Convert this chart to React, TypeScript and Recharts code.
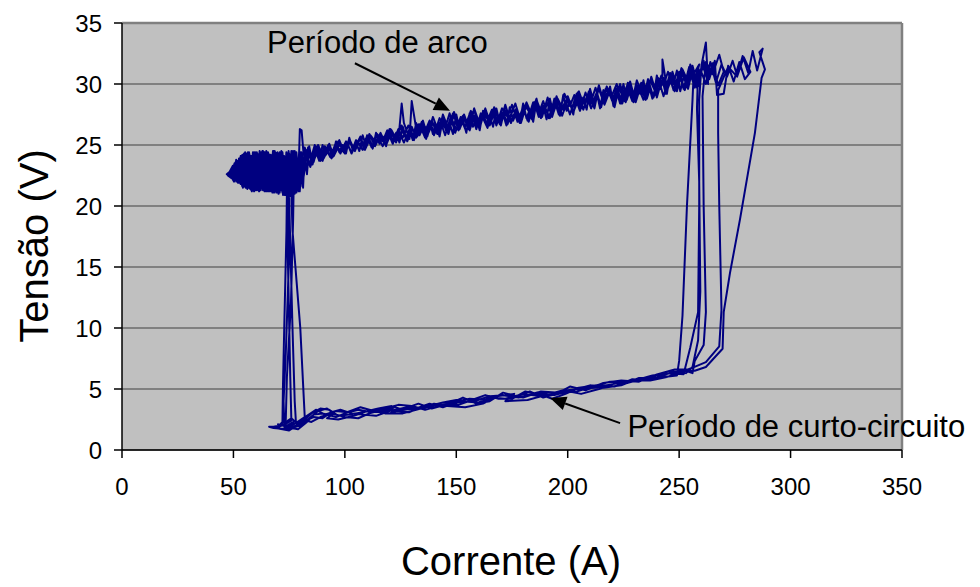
import React from 'react';
import { LineChart, Line, XAxis, YAxis, CartesianGrid, ReferenceLine, ReferenceDot, Label } from 'recharts';

// Current (A), Voltage (V) pairs, cycle by cycle
const loop1: [number, number][] = [
  [74, 21.2], [73.8, 18], [72.8, 10], [72.2, 5], [72, 2.3], [70, 1.9], [66, 1.9], [68, 1.8], [74, 1.7], [78, 2.0], [82, 2.4], [86, 2.7], [90, 2.6], [94, 3.1], [98, 3.3], [103, 3.0], [108, 2.9], [114, 2.8], [120, 3.2], [128, 3.5], [135, 3.4], [140, 3.8], [146, 3.6], [152, 4.0], [160, 3.9], [166, 4.3], [172, 4.2], [180, 4.6], [188, 4.4], [196, 4.8], [204, 5.0], [212, 5.1], [220, 5.4], [228, 5.6], [236, 5.8], [244, 6.0], [249, 6.1],
  [250, 7.3], [251.5, 11], [253.5, 20], [256, 28.7], [256.5, 30.8],
  [259, 31.6], [257, 30.1], [254.5, 31.4], [252, 29.6], [250, 30.9], [247.5, 29.5], [245, 31.0], [243, 29.9], [240.5, 30.5], [238, 28.8], [236, 30.2], [233.5, 29.1], [231, 30.3], [229, 28.6], [226.5, 29.8], [224, 28.4], [222, 30.0], [219.5, 28.9], [217, 29.6], [215, 28.1], [212.5, 29.7], [210, 28.3], [208, 29.3], [205.5, 27.8], [203, 29.1], [201, 28.2], [198.5, 29.2], [196, 27.5], [194, 28.7], [191.5, 27.2], [189, 28.6], [187, 27.6], [184.5, 28.5], [182, 27.0], [180, 28.1], [177.5, 26.9], [175, 28.3], [173, 27.3], [170.5, 28.0], [168, 26.6], [166, 27.9], [163.5, 26.8], [161, 27.6], [159, 26.3], [156.5, 27.8], [154, 26.5], [152, 27.3], [149.5, 26.0], [147, 27.6], [145, 26.4], [142.5, 27.2], [140, 25.8], [138, 27.0], [135.5, 25.9], [133, 26.7], [131, 25.4], [128.5, 26.6], [126, 25.6], [124, 26.3], [121.5, 25.1], [119, 26.2], [117, 25.3], [114.5, 25.9], [112, 24.8], [110, 25.7], [107.5, 24.9], [105, 25.4], [103, 24.4], [100.5, 25.3], [98, 24.3], [96, 25.2], [93.5, 24.0], [91, 24.9], [89, 23.8], [86.5, 25.0], [84, 23.4], [82, 24.8],
  [81, 21.6], [80, 24.4], [79, 21.3], [78, 24.2], [77, 21.1], [76, 24.5], [75, 21.4], [74, 24.1], [73, 20.9], [72, 24.4], [71, 21.5], [70, 24.3], [69, 21.2], [68, 24.5], [67, 21.6], [66, 24.2], [65, 21.3], [64, 24.4], [63, 21.7], [62, 24.0], [61, 21.4], [60, 24.3], [59, 21.8], [58, 24.1], [57, 21.5], [56, 23.9], [55, 21.9], [54, 23.7], [53, 22.1], [52, 23.5], [51, 22.3], [50, 23.2], [48.5, 22.7], [47.5, 22.5], [49, 22.3],
  [50.5, 23.5], [51.5, 22.0], [52.5, 23.9], [53.5, 21.8], [54.5, 24.2], [55.5, 21.6], [56.5, 24.3], [57.5, 21.4], [58.5, 24.0], [59.5, 21.6], [60.5, 24.4], [61.5, 21.3], [62.5, 24.2], [63.5, 21.5], [64.5, 24.3], [65.5, 21.2], [66.5, 24.1], [67.5, 21.4], [68.5, 24.4], [69.5, 21.1], [70.5, 24.2], [71.5, 21.3], [72.5, 24.0], [73.5, 21.0], [74.5, 23.6], [74.2, 21.2],
];

const loop2: [number, number][] = [
  [75, 20.6], [75.5, 17], [76.5, 10], [77.5, 4], [78, 2.4], [74, 2.0], [70, 2.1], [76, 1.8], [80, 2.0], [84, 2.6], [88, 3.2], [92, 3.4], [95, 3.0], [92, 2.6], [97, 2.5], [104, 2.8], [110, 3.2], [116, 3.1], [122, 3.5], [118, 3.0], [126, 3.0], [132, 3.3], [138, 3.6], [144, 3.9], [150, 4.1], [146, 3.6], [154, 3.5], [162, 3.8], [168, 4.4], [176, 4.6], [172, 4.0], [182, 4.1], [190, 4.5], [198, 4.9], [206, 4.6], [214, 5.0], [222, 5.5], [230, 5.7], [238, 6.1], [246, 6.3], [252, 6.2],
  [255, 8.4], [258.5, 11.3], [259, 20], [259, 28.7], [260, 31.5], [262, 33.4], [263, 30],
  [261, 31.9], [258.5, 29.8], [256, 31.5], [254, 30.2], [251.5, 31.2], [249, 29.4], [247, 30.6], [244.5, 29.7], [242.5, 32.0], [242.5, 30.4], [240, 29.1], [237.5, 30.6], [235, 28.9], [233, 30.0], [230.5, 28.5], [228, 30.2], [226, 29.0], [223.5, 29.9], [221, 28.3], [219, 29.4], [216.5, 28.5], [214, 29.8], [212, 28.0], [209.5, 29.2], [207, 28.4], [205, 29.4], [202.5, 27.6], [200, 28.9], [198, 27.9], [195.5, 28.8], [193, 27.3], [191, 28.4], [188.5, 27.5], [186, 28.7], [184, 27.1], [181.5, 28.3], [179, 26.8], [177, 27.9], [174.5, 27.0], [172, 28.2], [170, 26.6], [167.5, 27.7], [165, 26.9], [163, 28.0], [160.5, 26.4], [158, 27.4], [156, 26.2], [153.5, 27.5], [151, 26.6], [149, 27.7], [146.5, 25.9], [144, 27.0], [142, 26.1], [139.5, 27.3], [137, 25.7], [135, 26.6], [132.5, 25.8], [130, 28.6], [129, 25.5], [126.5, 26.8], [125.5, 28.4], [124, 25.4], [121, 26.1], [118.5, 25.0], [116, 26.0], [114, 25.2], [111.5, 25.8], [109, 24.7], [107, 25.6], [104.5, 24.5], [102, 25.5], [100, 24.6], [97.5, 25.0], [95, 24.1], [93, 25.1], [90.5, 23.9], [88, 24.6], [86, 23.7], [83.5, 24.7], [81.5, 24.2], [80.6, 26.2], [79.8, 26.3], [79.5, 24.5],
  [78.75, 21.4], [77.75, 24.3], [76.75, 20.8], [75.75, 24.1], [74.75, 21.2], [73.75, 24.4], [72.75, 21.5], [71.75, 24.2], [70.75, 21.1], [69.75, 24.0], [68.75, 21.4], [67.75, 24.4], [66.75, 21.7], [65.75, 24.1], [64.75, 21.2], [63.75, 24.3], [62.75, 21.5], [61.75, 24.5], [60.75, 21.6], [59.75, 24.2], [58.75, 21.3], [57.75, 24.0], [56.75, 21.8], [55.75, 24.3], [54.75, 21.6], [53.75, 23.9], [52.75, 22.0], [51.75, 23.6], [50.75, 22.2], [49.75, 23.3], [48, 22.7],
  [50.25, 22.0], [51.25, 23.8], [52.25, 21.9], [53.25, 24.1], [54.25, 21.5], [55.25, 24.4], [56.25, 21.7], [57.25, 24.2], [58.25, 21.2], [59.25, 24.4], [60.25, 21.5], [61.25, 24.1], [62.25, 21.3], [63.25, 24.5], [64.25, 21.6], [65.25, 24.2], [66.25, 21.4], [67.25, 24.0], [68.25, 21.2], [69.25, 24.3], [70.25, 21.5], [71.25, 24.1], [72.25, 20.9], [73.25, 23.8], [74.25, 21.4], [75.25, 23.5], [76, 21.2],
];

const loop3: [number, number][] = [
  [76.5, 18], [80, 10], [81.5, 4.5], [82, 2.7], [78, 2.2], [73, 1.9], [79, 1.7], [83, 2.3], [86, 2.9], [90, 3.0], [96, 2.7], [100, 3.0], [106, 3.3], [112, 3.1], [118, 3.4], [124, 3.7], [130, 3.6], [136, 3.3], [142, 3.6], [148, 3.9], [156, 4.2], [164, 4.1], [170, 4.5], [178, 4.3], [186, 4.7], [194, 4.5], [202, 4.9], [210, 5.3], [216, 5.1], [224, 5.3], [232, 5.9], [240, 5.9], [247, 6.4], [253, 6.5], [256, 6.3],
  [257, 7.3], [261, 8.6], [262, 11.3], [261, 20], [260.5, 29], [262, 31.8],
  [265, 30.8], [268, 32.4], [270, 31.0], [267.5, 29.9], [265, 31.7], [263, 30.3], [260.5, 31.5], [258, 29.7], [256, 30.9], [253.5, 29.9], [251, 31.3], [249, 29.6], [246.5, 30.4], [244, 29.2], [242, 30.7], [239.5, 29.3], [237, 30.3], [235, 28.7], [232.5, 29.9], [230, 28.9], [228, 30.0], [225.5, 28.6], [223, 29.7], [221, 28.1], [218.5, 29.6], [216, 28.6], [214, 29.9], [211.5, 28.2], [209, 29.0], [207, 27.9], [204.5, 29.3], [202, 28.1], [200, 28.7], [197.5, 27.4], [195, 29.0], [193, 27.8], [190.5, 28.5], [188, 27.2], [186, 28.8], [183.5, 27.5], [181, 28.2], [179, 26.9], [176.5, 28.4], [174, 27.2], [172, 27.8], [169.5, 26.7], [167, 28.1], [165, 26.9], [162.5, 27.5], [160, 26.5], [158, 27.9], [155.5, 26.3], [153, 27.4], [151, 26.7], [148.5, 27.6], [146, 26.1], [144, 27.3], [141.5, 25.9], [139, 27.0], [137, 26.2], [134.5, 26.9], [132, 25.6], [130, 26.5], [127.5, 25.5], [125, 26.5], [123, 25.2], [120.5, 26.3], [118, 25.4], [116, 25.8], [113.5, 24.9], [111, 25.9], [109, 25.0], [106.5, 25.5], [104, 24.6], [102, 25.3], [99.5, 24.4], [97, 25.3], [95, 24.2], [92.5, 25.0], [90, 23.7], [88, 24.8], [85.5, 23.5], [83, 24.6], [81.5, 22.9],
  [80.5, 24.4], [79, 21.3], [77.5, 24.5], [76, 21.0], [74.5, 24.3], [73, 20.9], [71.5, 24.5], [70, 21.4], [68.5, 24.2], [67, 21.2], [65.5, 24.4], [64, 21.6], [62.5, 24.3], [61, 21.3], [59.5, 24.1], [58, 21.6], [56.5, 24.2], [55, 21.8], [53.5, 24.0], [52, 22.2], [50.5, 23.4], [49, 22.5],
  [51, 23.0], [52.5, 21.9], [54, 24.2], [55.5, 21.5], [57, 24.4], [58.5, 21.4], [60, 24.3], [61.5, 21.2], [63, 24.5], [64.5, 21.4], [66, 24.0], [67.5, 21.1], [69, 24.3], [70.5, 21.3], [72, 24.4], [73.5, 20.9], [75, 23.9], [77, 21.3],
];

const loop4: [number, number][] = [
  [76.8, 19], [75.8, 12], [74, 6], [73.5, 2.5], [71, 2.0], [68, 1.9], [72, 1.7], [77, 2.1], [81, 2.5], [85, 2.3], [89, 2.7], [94, 3.0], [100, 2.7], [106, 2.6], [111, 3.0], [117, 3.3], [123, 3.2], [129, 3.1], [135, 3.6], [141, 3.5], [147, 3.8], [153, 4.3], [159, 3.8], [165, 4.0], [171, 4.7], [177, 4.4], [183, 4.8], [189, 4.3], [195, 4.6], [201, 5.2], [208, 4.9], [216, 5.5], [224, 5.7], [232, 5.6], [240, 6.2], [248, 6.6], [254, 6.6], [258, 6.9], [262, 7.2],
  [268, 8.5], [269, 11.5], [268, 20], [267.5, 26], [267.5, 29.5], [272, 31.4],
  [276, 30.6], [279, 32.2], [282, 31.0], [279.5, 30.4], [277, 31.8], [274.5, 30.2], [272, 31.5], [270, 29.2], [267, 29.1], [266, 31.9], [263.5, 30.4], [261, 31.7], [258.5, 30.0], [256, 31.2], [254, 29.6], [251.5, 30.8], [249, 29.8], [247, 31.0], [244.5, 29.4], [242, 30.2], [240, 28.9], [237.5, 30.5], [235, 29.3], [233, 30.1], [230.5, 28.7], [228, 29.7], [226, 28.5], [223.5, 30.0], [221, 28.7], [219, 29.5], [216.5, 28.3], [214, 29.6], [212, 28.5], [209.5, 29.4], [207, 27.9], [205, 28.8], [202.5, 27.7], [200, 29.0], [198, 27.9], [195.5, 28.6], [193, 27.4], [191, 28.9], [188.5, 27.3], [186, 28.3], [184, 27.4], [181.5, 28.5], [179, 27.1], [177, 28.0], [174.5, 26.8], [172, 28.3], [170, 27.0], [167.5, 27.9], [165, 26.6], [163, 27.6], [160.5, 26.7], [158, 28.0], [156, 26.4], [153.5, 27.2], [151, 26.2], [149, 27.4], [146.5, 26.3], [144, 27.5], [142, 25.9], [139.5, 26.8], [137, 25.8], [135, 27.0], [132.5, 25.7], [130, 26.3], [128, 25.3], [125.5, 26.6], [123, 25.5], [121, 26.2], [118.5, 25.1], [116, 25.9], [114, 25.3], [111.5, 25.6], [109, 24.6], [107, 25.7], [104.5, 24.8], [102, 25.2], [100, 24.3], [97.5, 25.4], [95, 24.3], [93, 24.8], [90.5, 23.9], [88, 25.0], [86, 23.6], [83.5, 24.8], [81.5, 22.4],
  [80.75, 24.3], [79.25, 21.2], [77.75, 24.4], [76.25, 21.0], [74.75, 24.5], [73.25, 21.3], [71.75, 24.3], [70.25, 21.0], [68.75, 24.4], [67.25, 21.5], [65.75, 24.3], [64.25, 21.3], [62.75, 24.1], [61.25, 21.5], [59.75, 24.4], [58.25, 21.7], [56.75, 24.1], [55.25, 21.6], [53.75, 23.8], [52.25, 22.0], [50.75, 23.5], [49.25, 22.4],
  [50.5, 23.1], [52, 21.9], [53.5, 24.1], [55, 21.7], [56.5, 24.4], [58, 21.3], [59.5, 24.2], [61, 21.6], [62.5, 24.4], [64, 21.2], [65.5, 24.1], [67, 21.4], [68.5, 24.5], [70, 21.2], [71.5, 24.2], [73, 21.0], [74.5, 23.8], [74.5, 21.0],
];

const loop5: [number, number][] = [
  [75, 16], [73.5, 8], [72.5, 4], [72.8, 2.2], [76, 2.6], [79, 2.1], [83, 2.8], [87, 3.3], [91, 2.9], [96, 3.2], [101, 3.1], [107, 3.5], [113, 3.2], [120, 3.0], [127, 3.4], [133, 3.8], [139, 3.4], [145, 3.7], [151, 3.7], [157, 4.1], [163, 4.5], [169, 4.2], [175, 4.2], [181, 4.8], [187, 4.6], [193, 4.2], [199, 4.6], [205, 5.1], [213, 5.3], [221, 5.2], [229, 5.8], [237, 5.7], [245, 6.0], [251, 6.5], [257, 6.5],
  [262, 6.8], [266, 7.6], [269.5, 8.3], [270, 11.3], [272.8, 14.5], [277.3, 18.9], [284, 26], [287, 30.5], [288.5, 31.2],
  [286, 32.6], [287.5, 32.9], [285, 31.1], [283, 32.7], [281, 30.9], [278.5, 32.3], [276, 30.7], [274, 31.9], [271.5, 30.6], [269, 31.6], [266.5, 30.1], [264, 31.8], [262, 30.0], [259.5, 31.2], [257, 29.7], [255, 30.9], [252.5, 29.5], [250, 31.0], [248, 29.4], [245.5, 30.6], [243, 29.0], [241, 30.2], [238.5, 28.9], [236, 30.4], [234, 28.7], [231.5, 29.8], [229, 28.8], [227, 30.1], [224.5, 28.4], [222, 29.6], [220, 28.6], [217.5, 29.8], [215, 28.2], [213, 29.1], [210.5, 28.0], [208, 29.3], [206, 28.0], [203.5, 28.9], [201, 27.5], [199, 28.6], [196.5, 27.6], [194, 28.8], [192, 27.2], [189.5, 28.2], [187, 27.3], [185, 28.5], [182.5, 26.9], [180, 27.9], [178, 27.1], [175.5, 28.0], [173, 26.7], [171, 27.7], [168.5, 26.9], [166, 27.8], [164, 26.4], [161.5, 27.4], [159, 26.6], [157, 27.7], [154.5, 26.1], [152, 27.2], [150, 26.3], [147.5, 27.3], [145, 25.8], [143, 26.9], [140.5, 26.0], [138, 26.8], [136, 25.6], [133.5, 26.7], [131, 25.7], [129, 26.3], [126.5, 25.2], [124, 26.2], [122, 25.3], [119.5, 26.0], [117, 24.9], [115, 25.6], [112.5, 24.9], [110, 25.8], [108, 24.6], [105.5, 25.3], [103, 24.3], [101, 25.2], [98.5, 24.5], [96, 24.9], [94, 23.9], [91.5, 24.8], [89, 23.7], [87, 24.9], [84.5, 23.2], [82, 24.5],
  [81.25, 21.8], [79.75, 24.2], [78.25, 21.1], [76.75, 24.3], [75.25, 20.9], [73.75, 24.2], [72.25, 21.2], [70.75, 24.4], [69.25, 21.3], [67.75, 24.2], [66.25, 21.6], [64.75, 24.5], [63.25, 21.3], [61.75, 24.0], [60.25, 21.4], [58.75, 24.3], [57.25, 21.6], [55.75, 24.0], [54.25, 21.8], [52.75, 23.8], [51.25, 22.3], [49.75, 23.0], [47.5, 22.6],
  [50.25, 22.3], [51.75, 23.7], [53.25, 21.8], [54.75, 24.3], [56.25, 21.4], [57.75, 24.1], [59.25, 21.2], [60.75, 24.3], [62.25, 21.5], [63.75, 24.4], [65.25, 21.3], [66.75, 24.2], [68.25, 21.1], [69.75, 24.4], [71.25, 21.3], [72.75, 24.1], [74, 21.0],
];

const loop6: [number, number][] = [
  [74.5, 15], [75.5, 6], [76, 2.4], [73, 2.1], [69, 1.8], [75, 1.6], [80, 2.2], [85, 3.0], [89, 3.4], [93, 3.3], [97, 2.8], [102, 2.9], [108, 3.1], [115, 3.4], [121, 3.6], [126, 3.3], [132, 3.4], [138, 3.8], [144, 3.5], [150, 3.9], [158, 4.0], [165, 4.4], [173, 4.5], [180, 4.3], [188, 4.8], [196, 4.7], [204, 4.8], [211, 5.2], [219, 5.6], [227, 5.5], [235, 5.9], [243, 6.2], [250, 6.4], [253, 6.3], [256, 6.8], [258.5, 9], [259.5, 13], [259, 22], [258, 28], [258.5, 31.2],
  [256.5, 30.1], [255, 31.6], [253.5, 29.8], [252, 30.6], [250.5, 29.4], [249, 31.1], [247.5, 30.0], [246, 30.9], [244.5, 29.2], [243, 30.5], [241.5, 29.6], [240, 30.7], [238.5, 28.9], [237, 29.7], [235.5, 28.8], [234, 30.3], [232.5, 29.2], [231, 29.9], [229.5, 28.5], [228, 29.6], [226.5, 28.7], [225, 30.0], [223.5, 28.4], [222, 29.4], [220.5, 28.2], [219, 29.8], [217.5, 28.8], [216, 29.5], [214.5, 28.0], [213, 29.3], [211.5, 28.6], [210, 29.6], [208.5, 27.9], [207, 28.9], [205.5, 28.1], [204, 29.2], [202.5, 27.5], [201, 28.6], [199.5, 27.8], [198, 29.1], [196.5, 27.4], [195, 28.4], [193.5, 27.6], [192, 28.8], [190.5, 27.1], [189, 28.2], [187.5, 27.4], [186, 28.6], [184.5, 26.9], [183, 27.9], [181.5, 27.2], [180, 28.4], [178.5, 26.8], [177, 27.7], [175.5, 27.0], [174, 28.1], [172.5, 26.6], [171, 27.5], [169.5, 26.8], [168, 28.0], [166.5, 26.5], [165, 27.4], [163.5, 26.6], [162, 27.8], [160.5, 26.2], [159, 27.2], [157.5, 26.5], [156, 27.6], [154.5, 26.0], [153, 27.0], [151.5, 26.3], [150, 27.5], [148.5, 25.9], [147, 26.8], [145.5, 26.1], [144, 27.2], [142.5, 25.7], [141, 26.6], [139.5, 25.9], [138, 27.0], [136.5, 25.5], [135, 26.4], [133.5, 25.8], [132, 26.8], [130.5, 25.4], [129, 26.2], [127.5, 25.6], [126, 26.5], [124.5, 25.2], [123, 26.0], [121.5, 25.3], [120, 26.3], [118.5, 24.9], [117, 25.7], [115.5, 25.1], [114, 26.0], [112.5, 24.7], [111, 25.4], [109.5, 24.9], [108, 25.8], [106.5, 24.5], [105, 25.2], [103.5, 24.6], [102, 25.6], [100.5, 24.3], [99, 25.0], [97.5, 24.4], [96, 25.3], [94.5, 24.0], [93, 24.7], [91.5, 24.2], [90, 25.0], [88.5, 23.7], [87, 24.5], [85.5, 23.4], [84, 24.9],
  [83, 22.6], [82, 24.6], [81.25, 21.5], [80.5, 23.0], [79.75, 21.2], [79, 22.8], [78.25, 24.4], [77.5, 22.6], [76.75, 24.5], [76, 22.4], [75.25, 20.8], [74.5, 22.7], [73.75, 24.3], [73, 22.5], [72.25, 21.0], [71.5, 22.9], [70.75, 24.4], [70, 22.6], [69.25, 21.1], [68.5, 22.8], [67.75, 24.5], [67, 22.7], [66.25, 21.2], [65.5, 23.0], [64.75, 24.4], [64, 22.5], [63.25, 21.4], [62.5, 22.9], [61.75, 24.3], [61, 22.6], [60.25, 21.3], [59.5, 22.8], [58.75, 24.4], [58, 22.7], [57.25, 21.5], [56.5, 23.0], [55.75, 24.2], [55, 22.6], [54.25, 21.7], [53.5, 22.9], [52.75, 23.9], [52, 22.5], [51.25, 22.0], [50.5, 22.9], [49.5, 22.4], [48, 22.6], [47, 22.6],
  [49, 22.9], [51, 23.6], [52.5, 22.8], [54, 21.6], [55.5, 22.9], [57, 24.4], [58.5, 23.0], [60, 21.3], [61.5, 22.7], [63, 24.4], [64.5, 22.8], [66, 21.2], [67.5, 22.9], [69, 24.3], [70.5, 22.7], [72, 21.1], [73.5, 22.9], [75, 24.3], [76.5, 22.5], [77.5, 21.0], [78.5, 22.6], [80, 24.0], [81, 22.2],
];

const xTicks = [0, 50, 100, 150, 200, 250, 300, 350];
const yTicks = [0, 5, 10, 15, 20, 25, 30, 35];

const xTitle = 'Corrente (A)';
const yTitle = 'Tensão (V)';
const arcLabel = 'Período de arco';
const shortLabel = 'Período de curto-circuito';

// annotation anchors in data units
const arcText = { x: 65.1, y: 32.55 };
const arcArrow: [{ x: number; y: number }, { x: number; y: number }] = [{ x: 104.5, y: 31.7 }, { x: 147.2, y: 27.8 }];
const shortText = { x: 226.8, y: 1.07 };
const shortArrow: [{ x: number; y: number }, { x: number; y: number }] = [{ x: 223.5, y: 2.2 }, { x: 192.1, y: 4.26 }];

const data = [...loop1, ...loop2, ...loop3, ...loop4, ...loop5, ...loop6].map(([x, y]) => ({ x, y }));

const FONT = '"Liberation Sans", Arial, sans-serif';

const Arrow = (props: any) => {
  const { x1, y1, x2, y2 } = props;
  const dx = x2 - x1;
  const dy = y2 - y1;
  const len = Math.sqrt(dx * dx + dy * dy) || 1;
  const ux = dx / len;
  const uy = dy / len;
  const hl = 16;
  const hw = 7;
  const bx = x2 - ux * hl;
  const by = y2 - uy * hl;
  const p1 = `${x2},${y2}`;
  const p2 = `${bx - uy * hw},${by + ux * hw}`;
  const p3 = `${bx + uy * hw},${by - ux * hw}`;
  return (
    <g>
      <line x1={x1} y1={y1} x2={bx} y2={by} stroke="#000" strokeWidth={2} />
      <polygon points={`${p1} ${p2} ${p3}`} fill="#000" />
    </g>
  );
};

const makeText = (txt: string) => (props: any) => (
  <text x={props.cx} y={props.cy} fontSize={31} fontFamily={FONT} fill="#000">
    {txt}
  </text>
);

export default function App() {
  return (
    <div style={{ position: 'absolute', left: 0, top: 0, background: '#fff' }}>
      <LineChart width={980} height={587} data={data} margin={{ top: 23, right: 78, bottom: 97, left: 62 }}>
        <CartesianGrid vertical={false} horizontal={true} fill="#C0C0C0" stroke="#404040" strokeOpacity={1} />
        <XAxis
          type="number"
          dataKey="x"
          domain={[0, 350]}
          ticks={xTicks}
          interval={0}
          height={40}
          tickSize={8}
          tickMargin={20}
          axisLine={{ stroke: '#000', strokeWidth: 1.5 }}
          tickLine={{ stroke: '#000', strokeWidth: 1.5 }}
          tick={{ fontSize: 24, fill: '#000', fontFamily: FONT }}
        >
          <Label
            content={() => (
              <text x={511} y={575} textAnchor="middle" fontSize={40} fontFamily={FONT} fill="#000">
                {xTitle}
              </text>
            )}
          />
        </XAxis>
        <YAxis
          type="number"
          domain={[0, 35]}
          ticks={yTicks}
          interval={0}
          width={60}
          tickSize={8}
          tickMargin={12}
          axisLine={{ stroke: '#000', strokeWidth: 1.5 }}
          tickLine={{ stroke: '#000', strokeWidth: 1.5 }}
          tick={{ fontSize: 24, fill: '#000', fontFamily: FONT }}
        >
          <Label
            content={() => (
              <text
                x={48}
                y={246}
                textAnchor="middle"
                transform="rotate(-90 48 246)"
                fontSize={40}
                fontFamily={FONT}
                fill="#000"
              >
                {yTitle}
              </text>
            )}
          />
        </YAxis>
        <ReferenceLine y={35} stroke="#808080" strokeWidth={2.5} />
        <ReferenceLine x={350} stroke="#808080" strokeWidth={2.5} />
        <Line
          type="linear"
          dataKey="y"
          stroke="#000080"
          strokeWidth={2}
          dot={false}
          activeDot={false}
          isAnimationActive={false}
          strokeLinejoin="round"
        />
        <ReferenceLine segment={arcArrow} shape={Arrow} ifOverflow="visible" />
        <ReferenceLine segment={shortArrow} shape={Arrow} ifOverflow="visible" />
        <ReferenceDot x={arcText.x} y={arcText.y} r={0} shape={makeText(arcLabel)} ifOverflow="visible" />
        <ReferenceDot x={shortText.x} y={shortText.y} r={0} shape={makeText(shortLabel)} ifOverflow="visible" />
      </LineChart>
    </div>
  );
}
